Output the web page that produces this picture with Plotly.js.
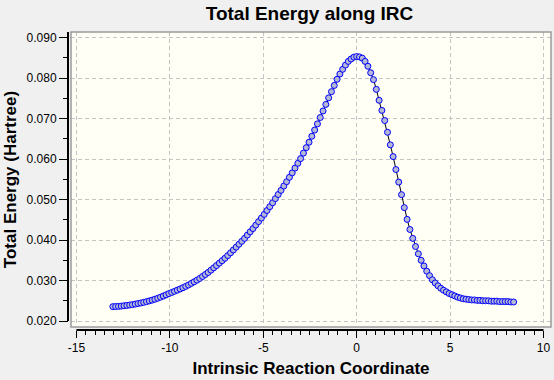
<!DOCTYPE html>
<html>
<head>
<meta charset="utf-8">
<script src="https://cdn.plot.ly/plotly-3.0.1.min.js"></script>
<style>
  html, body { margin: 0; padding: 0; background: #f0f0f0; }
  #chart { width: 554px; height: 380px; }
</style>
</head>
<body>
<div id="chart"></div>
<script>
// Intrinsic reaction coordinate values
const ircX = [
  -13.05, -12.90, -12.75, -12.60, -12.45, -12.30, -12.15, -12.00, -11.85, -11.70,
  -11.55, -11.40, -11.25, -11.10, -10.95, -10.80, -10.65, -10.50, -10.35, -10.20,
  -10.05, -9.90, -9.75, -9.60, -9.45, -9.30, -9.15, -9.00, -8.85, -8.70,
  -8.55, -8.40, -8.25, -8.10, -7.95, -7.80, -7.65, -7.50, -7.35, -7.20,
  -7.05, -6.90, -6.75, -6.60, -6.45, -6.30, -6.15, -6.00, -5.85, -5.70,
  -5.55, -5.40, -5.25, -5.10, -4.95, -4.80, -4.65, -4.50, -4.35, -4.20,
  -4.05, -3.90, -3.75, -3.60, -3.45, -3.30, -3.15, -3.00, -2.85, -2.70,
  -2.55, -2.40, -2.25, -2.10, -1.95, -1.80, -1.65, -1.50, -1.35, -1.20,
  -1.05, -0.90, -0.75, -0.60, -0.45, -0.30, -0.15, 0.00,
  0.15, 0.30, 0.45, 0.60, 0.75, 0.90, 1.05, 1.20, 1.35, 1.50,
  1.65, 1.80, 1.95, 2.10, 2.25, 2.40, 2.55, 2.70, 2.85, 3.00,
  3.15, 3.30, 3.45, 3.60, 3.75, 3.90, 4.05, 4.20, 4.35, 4.50,
  4.65, 4.80, 4.95, 5.10, 5.25, 5.40, 5.55, 5.70, 5.85, 6.00,
  6.15, 6.30, 6.45, 6.60, 6.75, 6.90, 7.05, 7.20, 7.35, 7.50,
  7.65, 7.80, 7.95, 8.10, 8.25, 8.40
];
// Total energy (Hartree)
const totalEnergy = [
  0.02355, 0.02358, 0.02362, 0.02368, 0.02377, 0.02386, 0.02395, 0.02405, 0.02418, 0.02432,
  0.02445, 0.02461, 0.02478, 0.02497, 0.02516, 0.02538, 0.02562, 0.02588, 0.02616, 0.02646,
  0.02677, 0.02705, 0.02733, 0.02762, 0.02792, 0.02823, 0.02856, 0.02890, 0.02929, 0.02968,
  0.03008, 0.03051, 0.03100, 0.03148, 0.03199, 0.03256, 0.03313, 0.03370, 0.03430, 0.03490,
  0.03550, 0.03616, 0.03685, 0.03754, 0.03824, 0.03896, 0.03968, 0.04040, 0.04121, 0.04202,
  0.04283, 0.04368, 0.04455, 0.04542, 0.04632, 0.04728, 0.04824, 0.04920, 0.05022, 0.05124,
  0.05226, 0.05332, 0.05440, 0.05548, 0.05659, 0.05776, 0.05893, 0.06010, 0.06145, 0.06280,
  0.06415, 0.06562, 0.06715, 0.06868, 0.07024, 0.07186, 0.07348, 0.07510, 0.07663, 0.07816,
  0.07969, 0.08098, 0.08215, 0.08320, 0.08410, 0.08470, 0.08515, 0.08530,
  0.08520, 0.08490, 0.08410, 0.08290, 0.08130, 0.07960, 0.07720, 0.07450, 0.07200, 0.06950,
  0.06660, 0.06350, 0.06060, 0.05740, 0.05430, 0.05120, 0.04800, 0.04510, 0.04260, 0.04040,
  0.03840, 0.03660, 0.03500, 0.03360, 0.03230, 0.03120, 0.03020, 0.02940, 0.02870, 0.02810,
  0.02760, 0.02720, 0.02680, 0.02650, 0.02620, 0.02590, 0.02570, 0.02550, 0.02540, 0.02530,
  0.02520, 0.02520, 0.02510, 0.02510, 0.02500, 0.02500, 0.02500, 0.02490, 0.02490, 0.02490,
  0.02480, 0.02480, 0.02480, 0.02480, 0.02470, 0.02470
];

const xTickVals = [-15, -10, -5, 0, 5, 10];
const xTickText = ['-15', '-10', '-5', '0', '5', '10'];
const yTickVals = [0.020, 0.030, 0.040, 0.050, 0.060, 0.070, 0.080, 0.090];
const yTickText = ['0.020', '0.030', '0.040', '0.050', '0.060', '0.070', '0.080', '0.090'];
const xRange = [-15.29, 10.40];
const yRange = [0.01852, 0.09136];

const FONT = 'Liberation Sans, Arial, sans-serif';

const trace = {
  x: ircX,
  y: totalEnergy,
  type: 'scatter',
  mode: 'lines+markers',
  line: { color: '#000000', width: 1 },
  marker: {
    symbol: 'circle',
    size: 6,
    color: '#b4b8d4',
    line: { color: '#0000ff', width: 1 }
  },
  hoverinfo: 'none'
};

const layout = {
  width: 554,
  height: 380,
  margin: { l: 68, r: 3, t: 32, b: 50 },
  paper_bgcolor: '#f0f0f0',
  plot_bgcolor: '#fffff6',
  showlegend: false,
  title: {
    text: 'Total Energy along IRC',
    font: { family: FONT, size: 19, color: '#000', weight: 'bold' },
    xref: 'paper', x: 0.5, xanchor: 'center',
    yref: 'container', y: 1 - 13 / 380, yanchor: 'middle'
  },
  xaxis: {
    domain: [0.0062, 1],
    range: xRange,
    anchor: 'free',
    position: 0,
    showline: false,
    zeroline: false,
    tickmode: 'array',
    tickvals: xTickVals,
    ticktext: xTickText,
    ticks: 'outside',
    ticklen: 7,
    tickwidth: 1,
    tickcolor: '#000',
    tickfont: { family: FONT, size: 12, color: '#000' },
    showgrid: true,
    gridcolor: '#c4c4c4',
    gridwidth: 1,
    griddash: '4px,3px',
    minor: { dtick: 0.5, tick0: 0, ticks: 'outside', ticklen: 4, tickwidth: 1, tickcolor: '#000', showgrid: false },
    title: {
      text: 'Intrinsic Reaction Coordinate',
      font: { family: FONT, size: 17, color: '#000', weight: 'bold' },
      standoff: 7
    }
  },
  yaxis: {
    domain: [0.01, 1],
    range: yRange,
    anchor: 'free',
    position: 0,
    showline: false,
    zeroline: false,
    tickmode: 'array',
    tickvals: yTickVals,
    ticktext: yTickText,
    ticks: 'outside',
    ticklen: 9,
    tickwidth: 1,
    tickcolor: '#000',
    tickfont: { family: FONT, size: 12, color: '#000' },
    showgrid: true,
    gridcolor: '#c4c4c4',
    gridwidth: 1,
    griddash: '4px,3px',
    minor: { dtick: 0.005, tick0: 0, ticks: 'outside', ticklen: 5, tickwidth: 1, tickcolor: '#000', showgrid: false },
    title: {
      text: 'Total Energy (Hartree)',
      font: { family: FONT, size: 17, color: '#000', weight: 'bold' },
      standoff: 4
    }
  },
  shapes: [
    { type: 'rect', xref: 'paper', yref: 'paper', x0: 0.0062, x1: 1, y0: 0.01, y1: 1,
      line: { color: '#9a9a9a', width: 1.5 }, fillcolor: 'rgba(0,0,0,0)', layer: 'above' },
    { type: 'line', xref: 'x', yref: 'paper', x0: xTickVals[0], x1: xTickVals[xTickVals.length - 1], y0: 0, y1: 0,
      line: { color: '#000', width: 2 }, layer: 'above' },
    { type: 'line', xref: 'paper', yref: 'y', x0: 0, x1: 0, y0: yTickVals[0], y1: yRange[1],
      line: { color: '#000', width: 2 }, layer: 'above' }
  ]
};

Plotly.newPlot('chart', [trace], layout, { staticPlot: true, displayModeBar: false });
</script>
</body>
</html>
